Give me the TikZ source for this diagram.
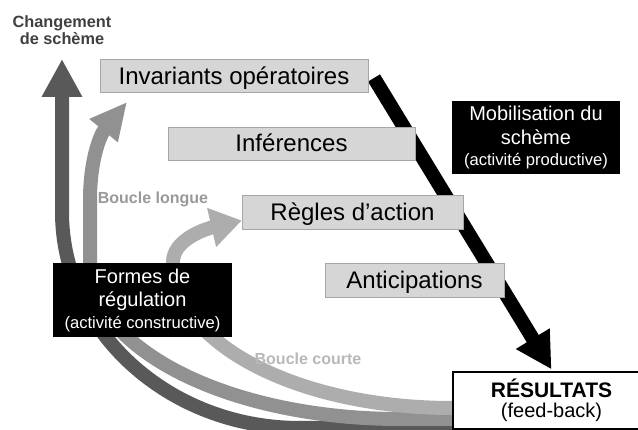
\documentclass[tikz,border=0pt]{standalone}
\usepackage{fontspec}
\setmainfont{Liberation Sans}
\usetikzlibrary{arrows.meta,backgrounds}

\begin{document}
\begin{tikzpicture}[x=1pt,y=-1pt,
  stage/.style={draw=black!35,fill=black!16,inner sep=0,minimum height=33,text height=17pt,text depth=0pt,font=\fontsize{24}{27}\selectfont},
  activity/.style={fill=black,text=white,align=center,inner sep=0,font=\fontsize{20}{23.5}\selectfont},
  loopname/.style={font=\bfseries\fontsize{16}{18}\selectfont},
  band/.style={line width=14pt},
  tipdark/.style={-{Triangle[length=38pt,width=38pt]}},
  tiplong/.style={-{Triangle[length=37pt,width=34pt]}},
  tipshort/.style={-{Triangle[length=31pt,width=38pt]}},
  tipmob/.style={-{Triangle[length=36pt,width=37pt]}}]
  \clip (0,0) rectangle (638,430);
%
    \node (chg) at (62,30.6) [align=center,text=black!75,font=\bfseries\fontsize{16.3}{17}\selectfont] {Changement\\de schème};
    \node (inv) at (234,76) [stage,minimum width=268] {Invariants opératoires};
    \node (inf) at (291.5,143.5) [stage,minimum width=247] {Inférences};
    \node (regles) at (352.5,212) [stage,minimum width=221,minimum height=34] {Règles d’action};
    \node (antic) at (414.5,280) [stage,minimum width=179,minimum height=34] {Anticipations};
%
    \node (mob) at (536,137.5) [activity,minimum width=168,minimum height=73] {Mobilisation du\\schème\\[-2pt]{\fontsize{16.6}{19}\selectfont (activité productive)}};
    \node (formes) at (142.5,300) [activity,minimum width=179,minimum height=74] {Formes de\\régulation\\[-2pt]{\fontsize{16.6}{19}\selectfont (activité constructive)}};
    \node (res) at (551.5,400.5) [draw,line width=1.2pt,fill=white,minimum width=197,minimum height=57,align=center,font=\fontsize{20}{20}\selectfont] {{\bfseries\fontsize{21}{20}\selectfont RÉSULTATS}\\(feed-back)};
%
    \node (blong) at (153,199) [loopname,text=black!40] {Boucle longue};
    \node (bcourte) at (308,359) [loopname,text=black!28] {Boucle courte};
%
    \coordinate (dk0) at (452,428); \coordinate (lg0) at (452,419); \coordinate (st0) at (452,408);
    \coordinate (chgtip) at (62,59); \coordinate (invtip) at (127,102); \coordinate (mob0) at (374,78);
%
  \begin{scope}[on background layer]
    \clip (0,0) rectangle (638,430);
    \draw [band,draw=black!65,tipdark] (dk0) -- (300,428) .. controls (168.6,428) and (62,331) .. (62,212) -- (chgtip);
    \draw [band,draw=black!43,tiplong] (lg0) -- (400,419) .. controls (229,419) and (90,349) .. (90,263) -- (90,200) .. controls (90,160) and (100,135) .. (invtip);
    \draw [band,draw=black!32,tipshort] (st0) .. controls (297,408) and (173,343) .. (173,262) .. controls (173,240) and (205,229) .. ([yshift=-8.5pt]regles.west);
    \draw [line width=14pt,tipmob] (mob0) -- ([yshift=2pt]res.north);
  \end{scope}
\end{tikzpicture}
\end{document}
